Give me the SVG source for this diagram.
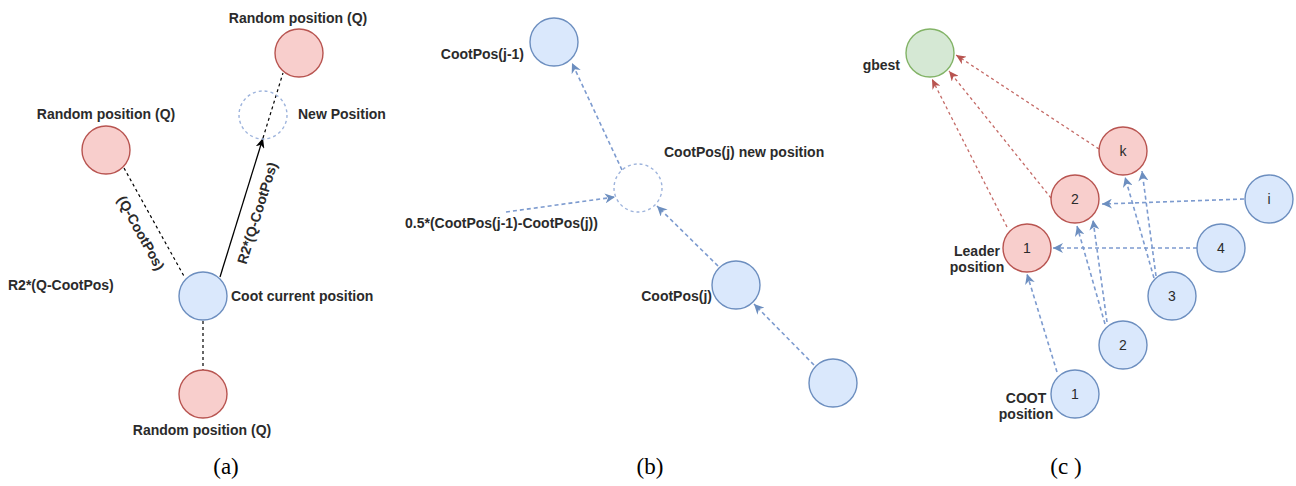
<svg xmlns="http://www.w3.org/2000/svg" width="1296" height="486" viewBox="0 0 1296 486">
<style>
  .red{fill:#f8cecc;stroke:#b85450;stroke-width:1.4}
  .blue{fill:#dae8fc;stroke:#6c8ebf;stroke-width:1.4}
  .green{fill:#d5e8d4;stroke:#82b366;stroke-width:1.4}
  .ghost{fill:none;stroke:#9db3dc;stroke-width:1.4;stroke-dasharray:3 3}
  .lbl{font-family:"Liberation Sans",Arial,sans-serif;font-size:14px;font-weight:bold;fill:#2b2b2b}
  .num{font-family:"Liberation Sans",Arial,sans-serif;font-size:14px;fill:#2b2b2b;text-anchor:middle;dominant-baseline:central}
  .cap{font-family:"Liberation Serif","Times New Roman",serif;font-size:23px;fill:#000;text-anchor:middle}
  .kd{fill:none;stroke:#000;stroke-width:1.2;stroke-dasharray:3 3}
  .ks{fill:none;stroke:#000;stroke-width:1.3}
  .bd{fill:none;stroke:#7d9bcf;stroke-width:1.6;stroke-dasharray:4 3}
  .rd{fill:none;stroke:#c46a66;stroke-width:1.3;stroke-dasharray:3 3}
</style>
<defs>
  <marker id="ak" markerUnits="userSpaceOnUse" markerWidth="11" markerHeight="9" refX="10" refY="4.5" orient="auto">
    <path d="M0,0 L10,4.5 L0,9 L3,4.5 Z" fill="#000"/>
  </marker>
  <marker id="ab" markerUnits="userSpaceOnUse" markerWidth="11" markerHeight="10" refX="10" refY="5" orient="auto">
    <path d="M0,0 L10,5 L0,10 L3,5 Z" fill="#6c8ebf"/>
  </marker>
  <marker id="ar" markerUnits="userSpaceOnUse" markerWidth="11" markerHeight="9" refX="10" refY="4.5" orient="auto">
    <path d="M0,0 L10,4.5 L0,9 L3,4.5 Z" fill="#b85450"/>
  </marker>
</defs>

<g id="connectors">
  <!-- panel a -->
  <line class="kd" x1="124" y1="168" x2="185" y2="278"/>
  <line class="kd" x1="263" y1="138" x2="283" y2="73"/>
  <line class="ks" x1="220" y1="277" x2="263" y2="138" marker-end="url(#ak)"/>
  <line class="kd" x1="203" y1="321" x2="203" y2="370"/>
  <!-- panel b -->
  <line class="bd" x1="622" y1="170" x2="572" y2="63" marker-end="url(#ab)"/>
  <line class="bd" x1="506" y1="212" x2="615" y2="197" marker-end="url(#ab)"/>
  <line class="bd" x1="718" y1="266" x2="657" y2="206" marker-end="url(#ab)"/>
  <line class="bd" x1="814" y1="365" x2="754" y2="304" marker-end="url(#ab)"/>
  <!-- panel c red -->
  <line class="rd" x1="1099" y1="149" x2="956" y2="55" marker-end="url(#ar)"/>
  <line class="rd" x1="1051" y1="198" x2="949" y2="71" marker-end="url(#ar)"/>
  <line class="rd" x1="1007" y1="227" x2="932" y2="79" marker-end="url(#ar)"/>
  <!-- panel c blue -->
  <line class="bd" x1="1244" y1="199" x2="1102" y2="204" marker-end="url(#ab)"/>
  <line class="bd" x1="1197" y1="248" x2="1053" y2="248" marker-end="url(#ab)"/>
  <line class="bd" x1="1057" y1="372" x2="1027" y2="274" marker-end="url(#ab)"/>
  <line class="bd" x1="1105" y1="324" x2="1077" y2="226" marker-end="url(#ab)"/>
  <line class="bd" x1="1107" y1="322" x2="1093" y2="220" marker-end="url(#ab)"/>
  <line class="bd" x1="1154" y1="278" x2="1125" y2="177" marker-end="url(#ab)"/>
  <line class="bd" x1="1156" y1="276" x2="1142" y2="171" marker-end="url(#ab)"/>
</g>

<!-- edge labels panel a -->
<g id="edge-labels">
  <text class="lbl" text-anchor="middle" transform="translate(141,233) rotate(61)" dominant-baseline="central">(Q-CootPos)</text>
  <text class="lbl" text-anchor="middle" transform="translate(257,213) rotate(-72.8)" dominant-baseline="central">R2*(Q-CootPos)</text>
  <text class="lbl" x="8" y="290">R2*(Q-CootPos)</text>
</g>

<!-- panel a nodes -->
<g id="a-random-top"><circle class="red" cx="299" cy="53" r="24"/><text class="lbl" x="298" y="23" text-anchor="middle">Random position (Q)</text></g>
<g id="a-new"><circle class="ghost" cx="263" cy="115" r="24"/><text class="lbl" x="298" y="119">New Position</text></g>
<g id="a-random-left"><circle class="red" cx="106" cy="150" r="24"/><text class="lbl" x="106" y="119" text-anchor="middle">Random position (Q)</text></g>
<g id="a-coot"><circle class="blue" cx="203" cy="296" r="24"/><text class="lbl" x="231" y="301">Coot current position</text></g>
<g id="a-random-bottom"><circle class="red" cx="203" cy="394" r="24"/><text class="lbl" x="202" y="435" text-anchor="middle">Random position (Q)</text></g>
<text class="cap" x="226" y="474">(a)</text>

<!-- panel b nodes -->
<g id="b-prev"><circle class="blue" cx="554" cy="42" r="24"/><text class="lbl" x="524" y="59" text-anchor="end">CootPos(j-1)</text></g>
<g id="b-new"><circle class="ghost" cx="638" cy="188" r="24"/><text class="lbl" x="664" y="157">CootPos(j) new position</text></g>
<text class="lbl" x="405" y="228">0.5*(CootPos(j-1)-CootPos(j))</text>
<g id="b-cur"><circle class="blue" cx="736" cy="285" r="24"/><text class="lbl" x="712" y="301" text-anchor="end">CootPos(j)</text></g>
<g id="b-next"><circle class="blue" cx="833" cy="383" r="24"/></g>
<text class="cap" x="650" y="474">(b)</text>

<!-- panel c nodes -->
<g id="c-gbest"><circle class="green" cx="930" cy="53" r="24"/><text class="lbl" x="900" y="70" text-anchor="end">gbest</text></g>
<g id="c-k"><circle class="red" cx="1123" cy="151" r="24"/><text class="num" x="1123" y="151">k</text></g>
<g id="c-l2"><circle class="red" cx="1075" cy="199" r="24"/><text class="num" x="1075" y="199">2</text></g>
<g id="c-l1"><circle class="red" cx="1027" cy="248" r="24"/><text class="num" x="1027" y="248">1</text>
  <text class="lbl" x="977" y="256" text-anchor="middle">Leader</text><text class="lbl" x="977" y="272" text-anchor="middle">position</text></g>
<g id="c-i"><circle class="blue" cx="1269" cy="199" r="24"/><text class="num" x="1269" y="199">i</text></g>
<g id="c-4"><circle class="blue" cx="1221" cy="248" r="24"/><text class="num" x="1221" y="248">4</text></g>
<g id="c-3"><circle class="blue" cx="1172" cy="296" r="24"/><text class="num" x="1172" y="296">3</text></g>
<g id="c-2"><circle class="blue" cx="1123" cy="345" r="24"/><text class="num" x="1123" y="345">2</text></g>
<g id="c-1"><circle class="blue" cx="1075" cy="394" r="24"/><text class="num" x="1075" y="394">1</text>
  <text class="lbl" x="1026" y="403" text-anchor="middle">COOT</text><text class="lbl" x="1026" y="419" text-anchor="middle">position</text></g>
<text class="cap" x="1066" y="474">(c )</text>
</svg>
